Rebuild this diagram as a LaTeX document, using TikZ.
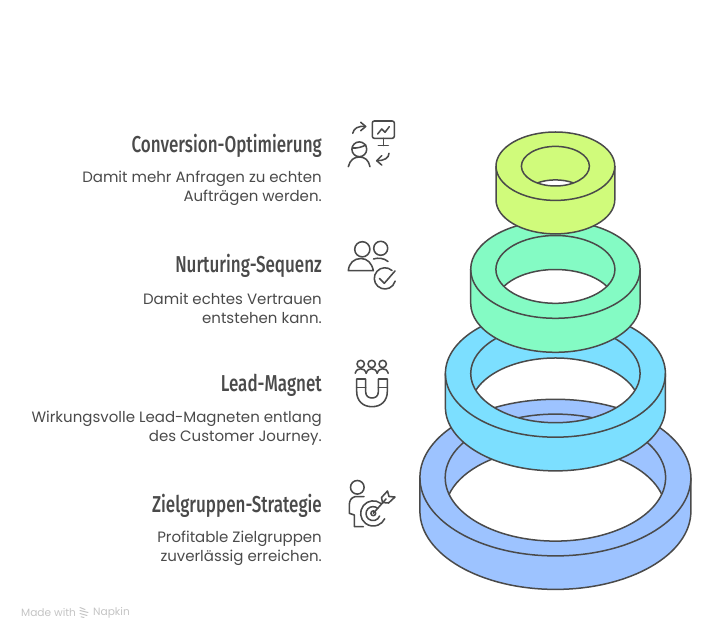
\documentclass[tikz,border=0pt]{standalone}
\usepackage{fontspec}
\setmainfont{Poppins}
\newfontfamily\titlefont[FakeStretch=0.74]{Fira Sans Medium}
\definecolor{ink}{HTML}{4A4A4A}
\definecolor{ringa}{HTML}{9DC3FF}
\definecolor{ringb}{HTML}{7CDFFF}
\definecolor{ringc}{HTML}{84FBC4}
\definecolor{ringd}{HTML}{D0FB7B}
\definecolor{foot}{HTML}{C4C4C4}
\tikzset{
  ringline/.style={draw=ink,line width=1.5pt},
  icon/.style={draw=ink,line width=1.55pt,line cap=round,line join=round},
  titletext/.style={anchor=east,inner sep=0pt,text=ink,font=\titlefont\fontsize{23}{25}\selectfont},
  bodytext/.style={anchor=east,inner sep=0pt,text=ink,align=right,font=\fontsize{15}{19}\selectfont},
}
% cx, cy(px from top), R, Ry, r, ry, d, colour
\newcommand{\ringshape}[8]{%
  \pgfmathsetmacro{\Ya}{638-#2}
  \pgfmathsetmacro{\Yb}{\Ya-#7}
  \pgfmathsetmacro{\Ym}{\Ya-#7/2}
  \pgfmathsetmacro{\angA}{asin((#7/2)/#6)}
  \pgfmathsetmacro{\Xl}{#1-#5*cos(\angA)}
  \pgfmathsetmacro{\Xr}{#1+#5*cos(\angA)}
  \pgfmathsetmacro{\XL}{#1-#3}
  \pgfmathsetmacro{\XR}{#1+#3}
  \pgfmathsetmacro{\sa}{180+\angA}
  \pgfmathsetmacro{\sb}{360-\angA}
  \pgfmathsetmacro{\sc}{180-\angA}
  \fill[#8,even odd rule]
    (\XL,\Ya) -- (\XL,\Yb) arc[start angle=180,end angle=360,x radius=#3,y radius=#4]
    -- (\XR,\Ya) arc[start angle=0,end angle=180,x radius=#3,y radius=#4] -- cycle
    (\Xl,\Ym) arc[start angle=\sa,end angle=\sb,x radius=#5,y radius=#6]
    arc[start angle=\angA,end angle=\sc,x radius=#5,y radius=#6] -- cycle;
  \draw[ringline] (\XL,\Ya) -- (\XL,\Yb) arc[start angle=180,end angle=360,x radius=#3,y radius=#4] -- (\XR,\Ya);
  \draw[ringline] (#1,\Ya) ellipse[x radius=#3,y radius=#4];
  \draw[ringline] (#1,\Ya) ellipse[x radius=#5,y radius=#6];
  \draw[ringline] (\Xr,\Ym) arc[start angle=\angA,end angle=\sc,x radius=#5,y radius=#6];
}
\begin{document}
\begin{tikzpicture}[x=1pt,y=1pt]
\useasboundingbox (0,0) rectangle (715,638);
\ringshape{555.4}{477.6}{135.5}{78.3}{110.2}{63.5}{33.5}{ringa}
\ringshape{555.4}{373.5}{110}{63.7}{84.7}{49.2}{33.7}{ringb}
\ringshape{555.4}{269.4}{84.7}{48.9}{59.5}{33.9}{34}{ringc}
\ringshape{555.4}{166.2}{59.4}{34.2}{34}{19.8}{33.5}{ringd}

\node[titletext] (t1) at (322,{638-145.8}) {Conversion-Optimierung};
\node[bodytext] (b1) at (322,{638-188.6}) {Damit mehr Anfragen zu echten\\Aufträgen werden.};
\node[titletext] (t2) at (322,{638-265.8}) {Nurturing-Sequenz};
\node[bodytext] (b2) at (322,{638-308.6}) {Damit echtes Vertrauen\\entstehen kann.};
\node[titletext] (t3) at (322,{638-385.8}) {Lead-Magnet};
\node[bodytext] (b3) at (322,{638-428.6}) {Wirkungsvolle Lead-Magneten entlang\\des Customer Journey.};
\node[titletext] (t4) at (322,{638-505.8}) {Zielgruppen-Strategie};
\node[bodytext] (b4) at (322,{638-548.6}) {Profitable Zielgruppen\\zuverlässig erreichen.};

\begin{scope}[yshift=638pt,y=-1pt]
% icon 1
\draw[icon,rounded corners=2pt] (372.3,121) rectangle (394.3,138.3);
\draw[icon] (383.3,138.3) -- (383.3,145.5) (378.3,145.7) -- (388.3,145.7);
\draw[icon] (377.7,134) -- (381.7,129) -- (385,132.3) -- (389.3,126.7);
\draw[icon] (352.7,133.3) .. controls (354,128) and (358,126) .. (365.5,126.3);
\draw[icon] (360.7,122.3) -- (365.7,126.5) -- (360.7,130.7);
\draw[icon] (359.3,149.3) circle[radius=7.4];
\draw[icon] (352.3,148) .. controls (357,148.5) and (362,147) .. (365.8,145);
\draw[icon] (348.3,166.7) .. controls (350,160) and (354,157) .. (359.3,157) .. controls (365,157) and (368.5,160) .. (370,166.7);
\draw[icon] (389,153.3) .. controls (389,158) and (384,160.8) .. (377,160.7);
\draw[icon] (381.7,155.7) -- (376.7,160.7) -- (381.7,165);
% icon 2
\draw[icon] (362.3,249.3) circle[radius=7.6];
\draw[icon] (348.3,270.7) .. controls (349,263) and (354,258.5) .. (361,258.5) .. controls (367,258.5) and (372,263) .. (373.3,270.7) -- cycle;
\draw[icon] (380.7,248.3) circle[radius=7];
\draw[icon] (373.5,259) .. controls (378,257.5) and (384,258) .. (388,261.5);
\draw[icon] (392,270.5) arc[start angle=-48,end angle=-345,radius=10.6];
\draw[icon] (379.3,278.3) -- (384.3,283.3) -- (395,271);
% icon 3
\foreach \cx in {360.7,371.7,382.7}{
  \draw[icon] (\cx,364) circle[radius=3.7];
  \draw[icon] (\cx-5.5,373.3) .. controls (\cx-4.5,370) and (\cx-2.5,368.8) .. (\cx,368.8) .. controls (\cx+2.5,368.8) and (\cx+4.5,370) .. (\cx+5.5,373.3);
}
\draw[icon] (356.7,379) -- (356.7,391.5) .. controls (356.7,401) and (363,406.7) .. (372,406.7) .. controls (381,406.7) and (387.3,401) .. (387.3,391.5) -- (387.3,379) -- (378.3,379) -- (378.3,392) .. controls (378.3,396) and (375.5,398) .. (372,398) .. controls (368.5,398) and (365.7,396) .. (365.7,392) -- (365.7,379) -- cycle;
\draw[icon] (356.7,387.3) -- (365.7,387.3) (378.3,387.3) -- (387.3,387.3);
% icon 4
\draw[icon] (357.3,487.3) circle[radius=6.8];
\draw[icon] (364,496.7) -- (355,496.7) .. controls (351,497.5) and (349.3,501) .. (349.3,505) -- (349.3,513.3) -- (354.3,515) -- (354.3,526.7) -- (363.3,526.7);
\draw[icon] (381,503.5) arc[start angle=-52,end angle=-335,radius=12.6];
\draw[icon] (377.8,508.5) arc[start angle=-47,end angle=-340,radius=7];
\draw[icon] (373.3,513.3) circle[radius=2.4];
\draw[icon] (373.3,513.3) -- (386,499);
\draw[icon] (381.5,497.5) -- (387.5,491) -- (389,496.5) -- (395,497) -- (388.5,503) -- (382.5,502.5) -- cycle;
% footer logo
\draw[foot,line width=1pt,line cap=round] (80,607.5) -- (85,609.5) (80,610.5) -- (88,612.5) (80,613.5) -- (87,615.5) (81,616.8) -- (84,617.5);
\end{scope}
\node[anchor=west,inner sep=0pt,text=foot,font=\fontsize{10.6}{12}\selectfont] (f1) at (21,{638-612.5}) {Made with};
\node[anchor=west,inner sep=0pt,text=foot,font=\fontsize{10.6}{12}\selectfont] (f2) at (93,{638-612.5}) {Napkin};
\end{tikzpicture}
\end{document}
